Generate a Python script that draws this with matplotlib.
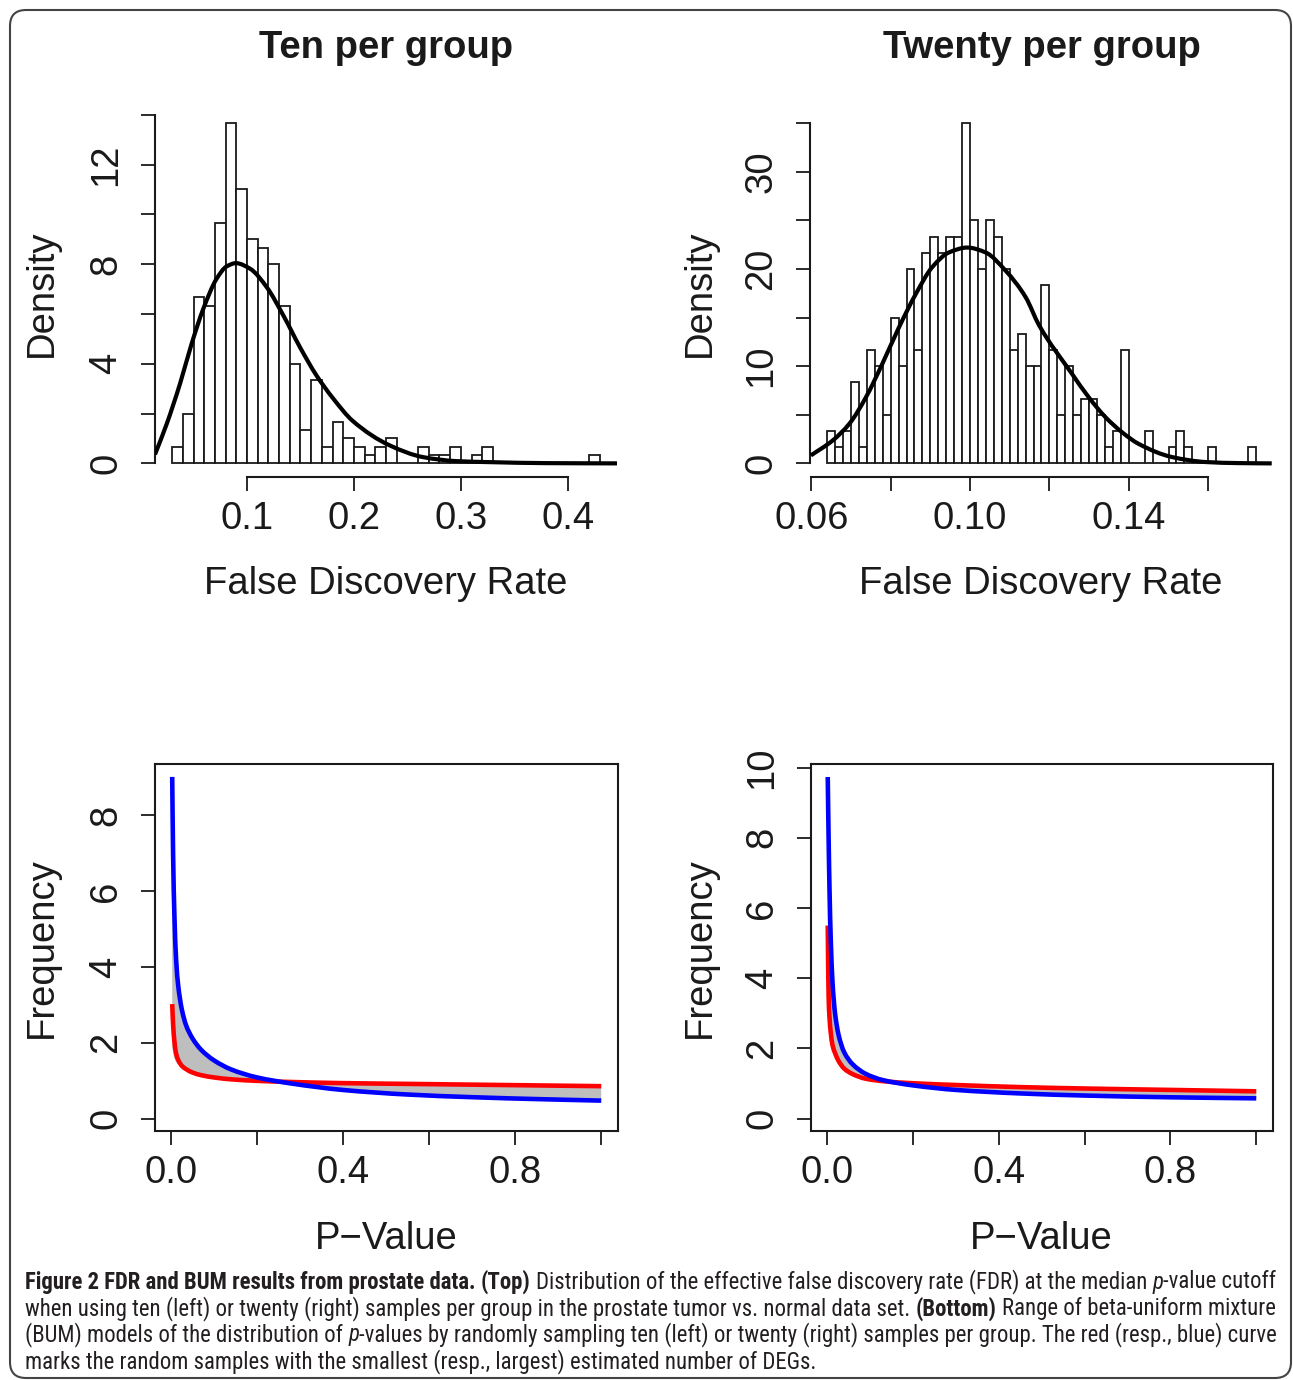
import numpy as np
import matplotlib
matplotlib.use("Agg")
import matplotlib.pyplot as plt
from matplotlib import font_manager as fm
from matplotlib.patches import FancyBboxPatch, PathPatch
from matplotlib.path import Path
from matplotlib.transforms import IdentityTransform

# ---------------- data ----------------
# Top-left histogram (ten per group): bins of width 0.01 starting at 0.03, counts (n = 300)
tl_bin_start = 0.03
tl_bin_width = 0.01
tl_counts = [2, 6, 20, 19, 29, 41, 33, 27, 26, 24, 19, 12, 4, 10, 2, 5, 3, 2, 1, 2,
             3, 0, 0, 2, 1, 1, 2, 0, 1, 2, 0, 0, 0, 0, 0, 0, 0, 0, 0, 1]
tl_n = 300
tl_curve_x = [0.014, 0.025, 0.0374, 0.0483, 0.0592, 0.0717, 0.081, 0.0897, 0.1028, 0.1184,
              0.134, 0.1495, 0.165, 0.1807, 0.199, 0.2336, 0.2648, 0.296, 0.327,
              0.38, 0.446]
tl_curve_y = [0.36, 1.59, 3.2, 4.81, 6.21, 7.42, 7.91, 8.04, 7.82, 7.08,
              5.94, 4.67, 3.53, 2.6, 1.7, 0.72, 0.25, 0.09, 0.05,
              0.01, 0.0]

# Top-right histogram (twenty per group): bins of width 0.002 starting at 0.064
tr_bin_start = 0.064
tr_bin_width = 0.002
tr_counts = [2, 1, 2, 5, 1, 7, 6, 3, 9, 6, 12, 7, 13, 14, 13, 14, 14, 21, 15, 12,
             15, 14, 12, 7, 8, 6, 6, 11, 7, 3, 6, 3, 4, 4, 3, 1, 2, 7, 0, 0,
             2, 0, 0, 1, 2, 1, 0, 0, 1, 0, 0, 0, 0, 1]
tr_n = 300
tr_curve_x = [0.0599, 0.0654, 0.0696, 0.0738, 0.0779, 0.0821, 0.0863, 0.0905, 0.0947, 0.0993,
              0.1039, 0.109, 0.114, 0.1174, 0.1257, 0.1299, 0.1341, 0.1383, 0.1425, 0.1509,
              0.1593, 0.1676, 0.176]
tr_curve_y = [0.82, 2.36, 4.08, 6.82, 10.24, 14.0, 17.4, 20.2, 21.7, 22.2,
              21.7, 19.8, 17.1, 14.2, 9.2, 6.8, 4.76, 3.2, 2.0, 0.65,
              0.14, 0.03, 0.0]

# Bottom-left BUM curves (ten per group)
bl_p = [0.003, 0.005, 0.008, 0.012, 0.017, 0.025, 0.035, 0.05, 0.07, 0.1,
        0.14, 0.2, 0.28, 0.4, 0.55, 0.7, 0.85, 1.0]
bl_blue = [9.0, 7.0, 5.4, 4.2, 3.5, 2.9, 2.47, 2.12, 1.82, 1.54,
           1.30, 1.09, 0.93, 0.76, 0.64, 0.57, 0.52, 0.48]
bl_red = [3.02, 2.5, 2.05, 1.72, 1.55, 1.40, 1.31, 1.22, 1.15, 1.09,
          1.04, 1.00, 0.97, 0.94, 0.92, 0.90, 0.88, 0.86]
bl_gray_low = [1.90, 1.75, 1.60, 1.50, 1.43, 1.36, 1.30, 1.22, 1.15, 1.09,
               1.04, 1.00, 0.93, 0.76, 0.64, 0.57, 0.52, 0.48]
bl_gray_high = [9.0, 7.0, 5.4, 4.2, 3.5, 2.9, 2.47, 2.12, 1.82, 1.54,
                1.30, 1.09, 0.97, 0.94, 0.92, 0.90, 0.88, 0.86]

# Bottom-right BUM curves (twenty per group)
br_p = [0.002, 0.004, 0.006, 0.009, 0.013, 0.019, 0.027, 0.04, 0.06, 0.09,
        0.13, 0.2, 0.3, 0.45, 0.6, 0.8, 1.0]
br_blue = [9.73, 8.0, 6.6, 5.1, 3.9, 3.0, 2.4, 1.9, 1.55, 1.28,
           1.10, 0.95, 0.82, 0.72, 0.66, 0.61, 0.58]
br_red = [5.5, 3.5, 2.9, 2.45, 2.1, 1.87, 1.65, 1.43, 1.27, 1.14,
          1.07, 1.01, 0.96, 0.90, 0.86, 0.82, 0.78]
br_gray_high = [10.1, 8.0, 6.6, 5.1, 3.9, 3.0, 2.4, 1.9, 1.55, 1.28,
                1.10, 1.01, 0.96, 0.90, 0.86, 0.82, 0.78]
br_gray_low = [5.5, 3.5, 2.9, 2.45, 2.1, 1.87, 1.65, 1.43, 1.27, 1.14,
               1.07, 0.95, 0.82, 0.72, 0.66, 0.61, 0.58]

titles = ["Ten per group", "Twenty per group"]
tl_xticks = [0.1, 0.2, 0.3, 0.4]
tl_xticklabels = ["0.1", "0.2", "0.3", "0.4"]
tl_yticks = [0, 2, 4, 6, 8, 10, 12, 14]
tl_yticklabels = ["0", "", "4", "", "8", "", "12", ""]
tr_xticks = [0.06, 0.08, 0.10, 0.12, 0.14, 0.16]
tr_xticklabels = ["0.06", "", "0.10", "", "0.14", ""]
tr_yticks = [0, 5, 10, 15, 20, 25, 30, 35]
tr_yticklabels = ["0", "", "10", "", "20", "", "30", ""]
b_xticks = [0.0, 0.2, 0.4, 0.6, 0.8, 1.0]
b_xticklabels = ["0.0", "", "0.4", "", "0.8", ""]
bl_yticks = [0, 2, 4, 6, 8]
bl_yticklabels = ["0", "2", "4", "6", "8"]
br_yticks = [0, 2, 4, 6, 8, 10]
br_yticklabels = ["0", "2", "4", "6", "8", "10"]

caption_lines = [
    [("Figure 2 FDR and BUM results from prostate data.", "b", False), ("(Top)", "b", True),
     ("Distribution of the effective false discovery rate (FDR) at the median", "r", True),
     ("p", "i", True), ("-value cutoff", "r", False)],
    [("when using ten (left) or twenty (right) samples per group in the prostate tumor vs. normal data set.", "r", False),
     ("(Bottom)", "b", True), ("Range of beta-uniform mixture", "r", True)],
    [("(BUM) models of the distribution of", "r", False), ("p", "i", True),
     ("-values by randomly sampling ten (left) or twenty (right) samples per group. The red (resp., blue) curve", "r", False)],
    [("marks the random samples with the smallest (resp., largest) estimated number of DEGs.", "r", False)],
]

# ---------------- setup ----------------
W, H = 1293, 1380
plt.rcParams['font.family'] = ['Liberation Sans', 'DejaVu Sans']
FS = 27.5
INK = '#1a1a1a'

fig = plt.figure(figsize=(W / 100, H / 100), dpi=100)
fig.patch.set_facecolor('white')


def px_axes(x0, y0, x1, y1):
    return fig.add_axes([x0 / W, 1 - y1 / H, (x1 - x0) / W, (y1 - y0) / H])


def bezier_segments(x, y):
    """Monotone cubic (Fritsch-Carlson) segments through the given points, as Bezier controls."""
    x = np.asarray(x, float)
    y = np.asarray(y, float)
    h = np.diff(x)
    d = np.diff(y) / h
    n = len(x)
    m = np.zeros(n)
    m[0], m[-1] = d[0], d[-1]
    for k in range(1, n - 1):
        if d[k - 1] * d[k] <= 0:
            m[k] = 0.0
        else:
            w1 = 2 * h[k] + h[k - 1]
            w2 = h[k] + 2 * h[k - 1]
            m[k] = (w1 + w2) / (w1 / d[k - 1] + w2 / d[k])
    segs = []
    for k in range(n - 1):
        p0 = (x[k], y[k])
        p3 = (x[k + 1], y[k + 1])
        c1 = (x[k] + h[k] / 3, y[k] + m[k] * h[k] / 3)
        c2 = (x[k + 1] - h[k] / 3, y[k + 1] - m[k + 1] * h[k] / 3)
        segs.append((p0, c1, c2, p3))
    return segs


def segs_to_path_parts(segs, reverse=False, start_code=Path.MOVETO):
    if reverse:
        segs = [(s[3], s[2], s[1], s[0]) for s in segs[::-1]]
    verts = [segs[0][0]]
    codes = [start_code]
    for s in segs:
        verts += [s[1], s[2], s[3]]
        codes += [Path.CURVE4] * 3
    return verts, codes


def smooth_line(ax, x, y, color, lw, z):
    v, c = segs_to_path_parts(bezier_segments(x, y))
    ax.add_patch(PathPatch(Path(v, c), facecolor='none', edgecolor=color, lw=lw,
                           zorder=z, capstyle='butt', joinstyle='round'))


def smooth_band(ax, x, lo, hi, color, z):
    v1, c1 = segs_to_path_parts(bezier_segments(x, hi))
    v2, c2 = segs_to_path_parts(bezier_segments(x, lo), reverse=True, start_code=Path.LINETO)
    verts = v1 + v2 + [v1[0]]
    codes = c1 + c2 + [Path.CLOSEPOLY]
    ax.add_patch(PathPatch(Path(verts, codes), facecolor=color, edgecolor='none', lw=0, zorder=z))


def style_ticks(ax):
    ax.tick_params(axis='both', direction='out', length=10, width=1.3, colors=INK,
                   labelsize=FS)
    ax.tick_params(axis='x', pad=7)
    ax.tick_params(axis='y', pad=12)
    for lab in ax.get_yticklabels():
        lab.set_rotation(90)
        lab.set_va('center')


def hist_panel(ax, start, width, counts, n, cx, cy, xlim, ylim, xt, xtl, yt, ytl, ybound, xbound):
    counts = np.asarray(counts, dtype=float)
    dens = counts / (n * width)
    edges = start + width * np.arange(len(counts))
    ax.bar(edges, dens, width=width, align='edge', color='white', edgecolor=INK,
           linewidth=1.3, zorder=2)
    ax.set_xlim(*xlim)
    ax.set_ylim(*ylim)
    smooth_line(ax, cx, cy, 'black', 3.0, 3)
    for s in ['top', 'right']:
        ax.spines[s].set_visible(False)
    for s in ['left', 'bottom']:
        ax.spines[s].set_linewidth(1.5)
        ax.spines[s].set_color(INK)
    ax.spines['left'].set_bounds(*ybound)
    ax.spines['bottom'].set_bounds(*xbound)
    ax.set_xticks(xt)
    ax.set_xticklabels(xtl)
    ax.set_yticks(yt)
    ax.set_yticklabels(ytl)
    style_ticks(ax)


def bum_panel(ax, p, blue, red, glow, ghigh, ylim, yt, ytl):
    ax.set_xlim(-0.037, 1.039)
    ax.set_ylim(*ylim)
    smooth_band(ax, p, glow, ghigh, '#bebebe', 1)
    smooth_line(ax, p, red, '#ff0000', 3.3, 3)
    smooth_line(ax, p, blue, '#0000ff', 3.3, 4)
    for s in ax.spines.values():
        s.set_linewidth(1.5)
        s.set_color(INK)
    ax.set_xticks(b_xticks)
    ax.set_xticklabels(b_xticklabels)
    ax.set_yticks(yt)
    ax.set_yticklabels(ytl)
    style_ticks(ax)


ax_tl = px_axes(155, 109.5, 617, 477)
hist_panel(ax_tl, tl_bin_start, tl_bin_width, tl_counts, tl_n, tl_curve_x, tl_curve_y,
           (0.014, 0.446), (-0.547, 14.21), tl_xticks, tl_xticklabels, tl_yticks, tl_yticklabels,
           (0, 14), (0.1, 0.4))

ax_tr = px_axes(810, 109.5, 1273, 477)
hist_panel(ax_tr, tr_bin_start, tr_bin_width, tr_counts, tr_n, tr_curve_x, tr_curve_y,
           (0.05968, 0.17632), (-1.4, 36.4), tr_xticks, tr_xticklabels, tr_yticks, tr_yticklabels,
           (0, 35), (0.06, 0.16))

ax_bl = px_axes(155, 764, 618, 1131)
bum_panel(ax_bl, bl_p, bl_blue, bl_red, bl_gray_low, bl_gray_high, (-0.32, 9.34),
          bl_yticks, bl_yticklabels)

ax_br = px_axes(811, 764, 1273, 1131)
bum_panel(ax_br, br_p, br_blue, br_red, br_gray_low, br_gray_high, (-0.35, 10.1),
          br_yticks, br_yticklabels)


def ftext(x, y, s, **kw):
    return fig.text(x / W, 1 - y / H, s, **kw)


ftext(386, 48, titles[0], fontsize=FS, weight='bold', ha='center', va='center', color=INK)
ftext(1042, 48, titles[1], fontsize=FS, weight='bold', ha='center', va='center', color=INK)
for cx in (386, 1041):
    ftext(cx, 584, "False Discovery Rate", fontsize=FS, ha='center', va='center', color=INK)
    ftext(cx, 1239, "P\u2212Value", fontsize=FS, ha='center', va='center', color=INK)
for cx in (42, 700):
    ftext(cx, 293, "Density", fontsize=FS, rotation=90, ha='center', va='center', color=INK)
    ftext(cx, 948, "Frequency", fontsize=FS, rotation=90, ha='center', va='center', color=INK)

# ---------------- caption ----------------
def has_font(name):
    try:
        fm.findfont(fm.FontProperties(family=name), fallback_to_default=False)
        return True
    except Exception:
        return False


cap_family = 'Open Sans'
for cand in ['Roboto Condensed', 'Liberation Sans Narrow', 'Open Sans Condensed', 'Roboto']:
    if has_font(cand):
        cap_family = cand
        break
cap_color = '#231f20'
renderer = fig.canvas.get_renderer()


def seg_kw(style, fs):
    return dict(fontsize=fs, family=[cap_family, 'DejaVu Sans'], color=cap_color,
                weight='bold' if style == 'b' else 'normal',
                style='italic' if style == 'i' else 'normal', ha='left', va='center')


def space_width(style, fs):
    a = fig.text(0, 0, "x x", **seg_kw(style, fs))
    b = fig.text(0, 0, "xx", **seg_kw(style, fs))
    w = a.get_window_extent(renderer).width - b.get_window_extent(renderer).width
    a.remove(); b.remove()
    return w


def draw_line(line, x0, y, fs):
    x = x0
    made = []
    for text, style, sp in line:
        if sp:
            x += space_width('r', fs)
        t = ftext(x, y, text, **seg_kw(style, fs))
        made.append(t)
        x = t.get_window_extent(renderer).x1
    return x, made


x_end, tmp = draw_line(caption_lines[0], 25, 1282, 12)
for t in tmp:
    t.remove()
cap_fs = 12 * (1278 - 25) / (x_end - 25)
for i, line in enumerate(caption_lines):
    draw_line(line, 25, 1282 + i * 26.4, cap_fs)

# rounded border
border = FancyBboxPatch((10, 2), 1281, 1368, boxstyle="round,pad=0,rounding_size=16",
                        transform=IdentityTransform(), fill=False, edgecolor='#444444',
                        linewidth=1.5)
fig.patches.append(border)

fig.savefig("out.png", dpi=100, facecolor='white')
